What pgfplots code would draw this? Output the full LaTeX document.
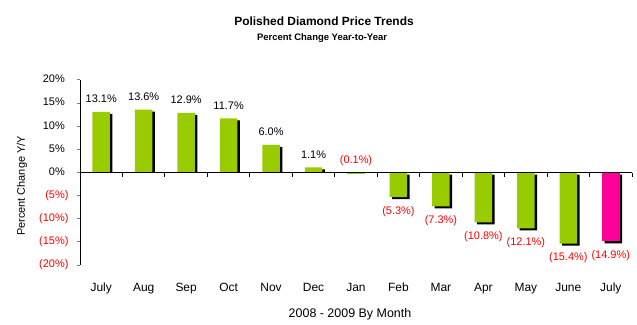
\documentclass[border=0pt]{standalone}
\usepackage{pgfplots}
\pgfplotsset{compat=1.18}
\usepackage{fontspec}
\setmainfont{Liberation Sans}
\definecolor{barg}{RGB}{153,204,0}
\definecolor{barm}{RGB}{255,0,153}
\begin{document}
\begin{tikzpicture}[x=1bp,y=1bp]
\path[use as bounding box] (0,0) rectangle (637,324);
\node[anchor=base,font=\bfseries\fontsize{12}{14}\selectfont,inner sep=0] at (324,298.5) {Polished Diamond Price Trends};
\node[anchor=base,font=\bfseries\fontsize{9.5}{11}\selectfont,inner sep=0] at (322,283.5) {Percent Change Year-to-Year};
\begin{axis}[
  at={(80bp,59bp)}, anchor=south west,
  scale only axis, width=552bp, height=185bp,
  xmin=-0.5, xmax=12.5, ymin=-20, ymax=20,
  /pgf/number format/assume math mode=true,
  axis lines*=left,
  x axis line style={draw=none},
  y axis line style={line width=1bp},
  xtick={0,...,12},
  xticklabels={July,Aug,Sep,Oct,Nov,Dec,Jan,Feb,Mar,Apr,May,June,July},
  xtick style={draw=none},
  xticklabel style={font=\fontsize{12}{14}\selectfont, anchor=base, yshift=-23bp},
  ytick={-20,-15,...,20},
  yticklabels={\textcolor{red}{(20\%)},\textcolor{red}{(15\%)},\textcolor{red}{(10\%)},\textcolor{red}{(5\%)},0\%\phantom{)},5\%\phantom{)},10\%\phantom{)},15\%\phantom{)},20\%\phantom{)}},
  yticklabel style={font=\fontsize{11}{13}\selectfont, xshift=-5bp},
  ytick style={line width=1bp},
  major tick length=3bp,
  tick align=outside,
  ylabel={Percent Change Y/Y},
  ylabel style={at={(axis description cs:-0.105,0.427)}, anchor=center, font=\fontsize{11}{13}\selectfont},
  xlabel={2008 - 2009 By Month},
  xlabel style={at={(axis description cs:0.5,0)}, anchor=base, yshift=-52bp, xshift=-6bp, font=\fontsize{12.5}{14}\selectfont},
  ybar, bar width=17.5bp, bar shift=0pt,
  clip=false,
]
% shadows of the rising months (kept above the zero line)
\begin{scope}
\clip (axis cs:-0.5,0) rectangle (axis cs:12.5,20);
\addplot[fill=black, draw=none, xshift=2.5bp, yshift=-2bp] coordinates {
 (0,13.1) (1,13.6) (2,12.9) (3,11.7) (4,6.0) (5,1.1)};
\end{scope}
% shadows of the falling months
\addplot[fill=black, draw=none, xshift=2.5bp, yshift=-2bp] coordinates {
 (7,-5.3) (8,-7.3) (9,-10.8) (10,-12.1) (11,-15.4) (12,-14.9)};
% positive bars
\addplot[fill=barg, draw=none, point meta=y,
  nodes near coords={\pgfmathprintnumber[fixed,fixed zerofill,precision=1]{\pgfplotspointmeta}\%},
  nodes near coords style={anchor=base, yshift=9bp, font=\fontsize{11}{13}\selectfont, text=black}]
  coordinates {(0,13.1) (1,13.6) (2,12.9) (3,11.7) (4,6.0) (5,1.1)};
% Jan
\addplot[fill=barg, draw=none, point meta=explicit,
  nodes near coords={(\pgfmathprintnumber[fixed,fixed zerofill,precision=1]{\pgfplotspointmeta}\%)},
  nodes near coords style={anchor=base, yshift=9bp, font=\fontsize{11}{13}\selectfont, text=red}]
  coordinates {(6,-0.1) [0.1]};
% negative bars
\addplot[fill=barg, draw=none, point meta=explicit,
  nodes near coords={(\pgfmathprintnumber[fixed,fixed zerofill,precision=1]{\pgfplotspointmeta}\%)},
  nodes near coords style={anchor=base, yshift=-17bp, font=\fontsize{11}{13}\selectfont, text=red}]
  coordinates {(7,-5.3) [5.3] (8,-7.3) [7.3] (9,-10.8) [10.8] (10,-12.1) [12.1] (11,-15.4) [15.4]};
% latest month
\addplot[fill=barm, draw=none, point meta=explicit,
  nodes near coords={(\pgfmathprintnumber[fixed,fixed zerofill,precision=1]{\pgfplotspointmeta}\%)},
  nodes near coords style={anchor=base, yshift=-17bp, font=\fontsize{11}{13}\selectfont, text=red}]
  coordinates {(12,-14.9) [14.9]};
\draw[line width=1bp] (axis cs:-0.5,0) -- (axis cs:12.5,0);
\pgfplotsinvokeforeach{0.5,1.5,...,12.5}{\draw[line width=1bp] (axis cs:#1,0) -- ([yshift=-4bp]axis cs:#1,0);}
\end{axis}
\end{tikzpicture}
\end{document}
